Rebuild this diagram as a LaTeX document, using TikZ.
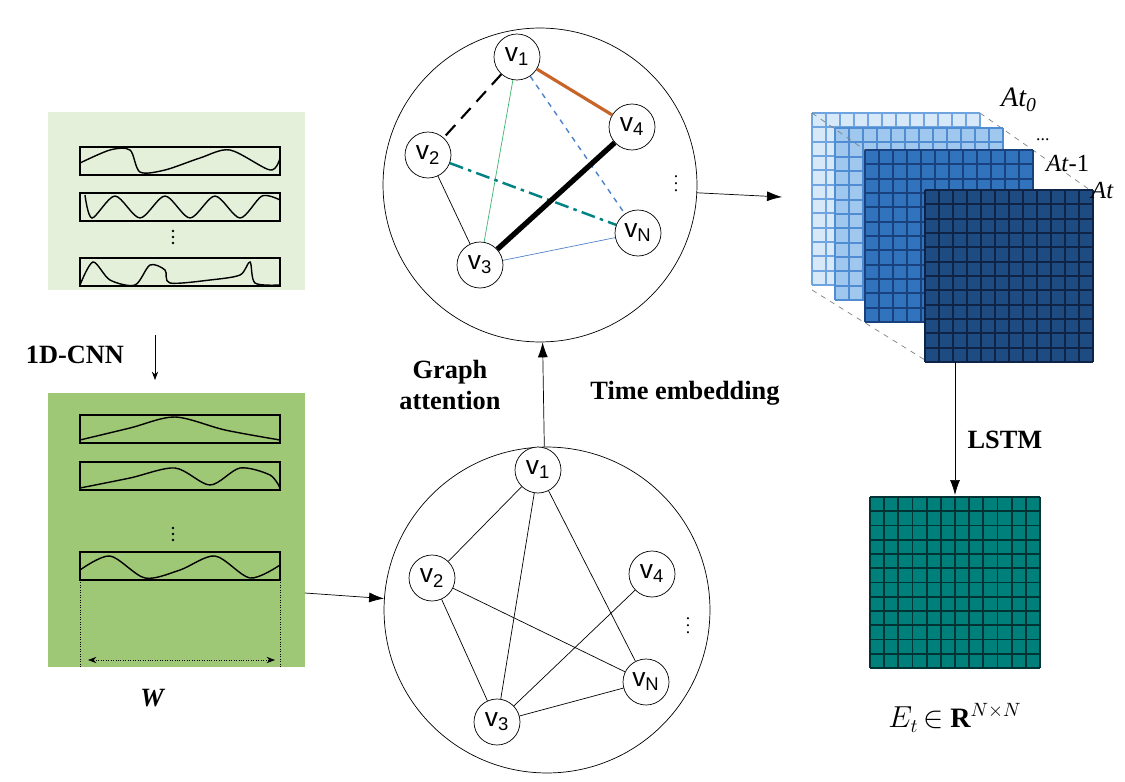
\documentclass[tikz,border=0pt]{standalone}
\usepackage{fontspec}
\setmainfont{Liberation Serif}
\newfontfamily\vfont{Liberation Sans}
\usetikzlibrary{arrows.meta,calc}
\definecolor{lightgreen}{RGB}{228,240,218}
\definecolor{darkgreen}{RGB}{158,200,118}
\definecolor{edgeorange}{RGB}{200,100,40}
\definecolor{edgegreen}{RGB}{60,180,110}
\definecolor{edgeblue}{RGB}{80,130,200}
\definecolor{edgeteal}{RGB}{0,130,130}
\definecolor{gridteal}{RGB}{0,128,122}
\definecolor{layA}{RGB}{215,232,248}
\definecolor{layAg}{RGB}{110,165,225}
\definecolor{layB}{RGB}{160,200,238}
\definecolor{layBg}{RGB}{80,140,210}
\definecolor{layC}{RGB}{50,115,190}
\definecolor{layCg}{RGB}{25,65,125}
\definecolor{layD}{RGB}{30,75,130}
\definecolor{layDg}{RGB}{15,35,70}
\tikzset{
  vert/.style={circle,draw,fill=white,minimum size=0.92cm,inner sep=0pt,font=\vfont\fontsize{15}{16}\selectfont},
  graphcirc/.style={circle,draw,minimum size=#1,inner sep=0pt},
  sigbox/.style={draw,thick},
  bigtext/.style={font=\bfseries\fontsize{15}{18}\selectfont,align=center},
  flow/.style={-{Latex[length=3mm,width=2mm]}}
}
\begin{document}
\begin{tikzpicture}[x=0.02cm,y=-0.02cm]
  \useasboundingbox (0,0) rectangle (1125,781);

  % input windows
  \fill[lightgreen] (48,112) rectangle (305,290);
  \fill[darkgreen] (48,393) rectangle (305,667);
  \foreach \t in {147,193,258} {\draw[sigbox] (80,\t) rectangle (280,\t+28);}
  \foreach \t in {415,462,552} {\draw[sigbox] (80,\t) rectangle (280,\t+28);}
  \draw[thick] plot[smooth] coordinates {(80,163) (110,150) (130,150) (140,172) (165,170) (200,158) (230,150) (270,170) (280,158)};
  \draw[thick] plot[smooth] coordinates {(85,195) (92,218) (115,196) (140,218) (165,196) (190,218) (215,196) (240,218) (262,196) (280,200)};
  \draw[thick] plot[smooth] coordinates {(80,285) (93,262) (110,280) (135,285) (150,265) (165,270) (170,283) (210,280) (240,275) (250,262) (255,283) (280,285)};
  \draw[thick] plot[smooth] coordinates {(80,440) (130,428) (175,417) (225,430) (280,440)};
  \draw[thick] plot[smooth] coordinates {(80,488) (130,478) (175,468) (210,485) (240,468) (270,475) (280,488)};
  \draw[thick] plot[smooth] coordinates {(80,570) (110,556) (145,578) (180,570) (215,556) (250,578) (280,565)};
  \foreach \y in {231,237,243} {\fill (173,\y) circle (0.8pt);}
  \foreach \y in {528,534,540} {\fill (173,\y) circle (0.8pt);}
  \draw[densely dotted] (80,580) -- (80,668);
  \draw[densely dotted] (280,580) -- (280,668);
  \draw[densely dotted,{Stealth}-{Stealth}] (88,660) -- (275,660);
  \node[font=\bfseries\itshape\fontsize{15}{18}\selectfont] (wlabel) at (152,698) {W};
  \draw[-{Stealth}] (155,335) -- (155,380);
  \node[bigtext] (cnn) at (75,355) {1D-CNN};

  % fully connected graph
  \node[graphcirc=6.52cm,draw] (gb) at (547,610) {};
  \node[vert] (b1) at (538,470) {v\textsubscript{1}};
  \node[vert] (b2) at (432,578) {v\textsubscript{2}};
  \node[vert] (b3) at (497,722) {v\textsubscript{3}};
  \node[vert] (b4) at (652,574) {v\textsubscript{4}};
  \node[vert] (bn) at (646,682) {v\textsubscript{N}};
  \node (bdots) at (688,620) {$\vdots$};
  \foreach \a/\b in {b1/b2,b1/b3,b1/bn,b2/b3,b2/bn,b3/b4,b3/bn} {\draw (\a) -- (\b);}

  % attention graph
  \node[graphcirc=6.28cm,draw] (ga) at (540,185) {};
  \node[vert] (a1) at (517,57) {v\textsubscript{1}};
  \node[vert] (a2) at (428,155) {v\textsubscript{2}};
  \node[vert] (a3) at (480,265) {v\textsubscript{3}};
  \node[vert] (a4) at (632,127) {v\textsubscript{4}};
  \node[vert] (an) at (638,233) {v\textsubscript{N}};
  \node (adots) at (676,178) {$\vdots$};
  \draw[line width=1.2pt,dash pattern=on 8pt off 5pt] (a1) -- (a2);
  \draw[edgeorange,line width=1.8pt] (a1) -- (a4);
  \draw[edgegreen] (a1) -- (a3);
  \draw[edgeblue,thick,dashed] (a1) -- (an);
  \draw (a2) -- (a3);
  \draw[edgeteal,line width=1.4pt,dash pattern=on 8pt off 3pt on 2pt off 3pt] (a2) -- (an);
  \draw[line width=3pt] (a3) -- (a4);
  \draw[edgeblue] (a3) -- (an);

  \draw[flow] (305,593) -- (gb);
  \draw[flow] (gb) -- (ga);
  \node[bigtext] (gatt) at (450,385) {Graph\\attention};
  \node[bigtext] (temb) at (685,393) {Time embedding};

  % adjacency stack
  \draw[gray,dashed] (812,113) -- (925,190);
  \draw[gray,dashed] (980,113) -- (1090,190);
  \draw[gray,dashed] (812,290) -- (925,360);
  \foreach \x/\y/\c/\g in {812/113/layA/layAg,835/128/layB/layBg,865/150/layC/layCg,925/190/layD/layDg} {
    \fill[\c] (\x,\y) rectangle (\x+168,\y+172);
    \foreach \i in {0,...,12} {
      \draw[\g,line width=1.2pt] (\x+\i*14,\y) -- (\x+\i*14,\y+172);
      \draw[\g,line width=1.2pt] (\x,\y+\i*14.33) -- (\x+168,\y+\i*14.33);
    }
  }
  \draw[gray,dashed] (812,113) -- (865,150);
  \node[font=\itshape\fontsize{16}{18}\selectfont,anchor=west] (at0) at (995,100) {At\textsubscript{0}};
  \node[anchor=west] (adots2) at (1030,140) {...};
  \node[font=\fontsize{14}{16}\selectfont,anchor=west] (atm) at (1040,163) {\textit{At}-1};
  \node[font=\itshape\fontsize{14}{16}\selectfont,anchor=west] (at) at (1085,190) {At};
  \coordinate (stack) at (782,197);
  \draw[flow] (ga) -- (stack);

  % embedding
  \fill[gridteal] (870,497) rectangle (1040,668);
  \foreach \i in {0,...,12} {
    \draw[black!60!teal,line width=1pt] (870+\i*14.17,497) -- (870+\i*14.17,668);
    \draw[black!60!teal,line width=1pt] (870,497+\i*14.25) -- (1040,497+\i*14.25);
  }
  \coordinate (emb) at (955,495);
  \coordinate (stackb) at (955,362);
  \draw[flow] (stackb) -- (emb);
  \node[bigtext] (lstm) at (1005,440) {LSTM};
  \node[font=\fontsize{16}{18}\selectfont] (et) at (955,718) {$E_t$\,$\in$ $\mathbf{R}^{N\times N}$};
\end{tikzpicture}
\end{document}
